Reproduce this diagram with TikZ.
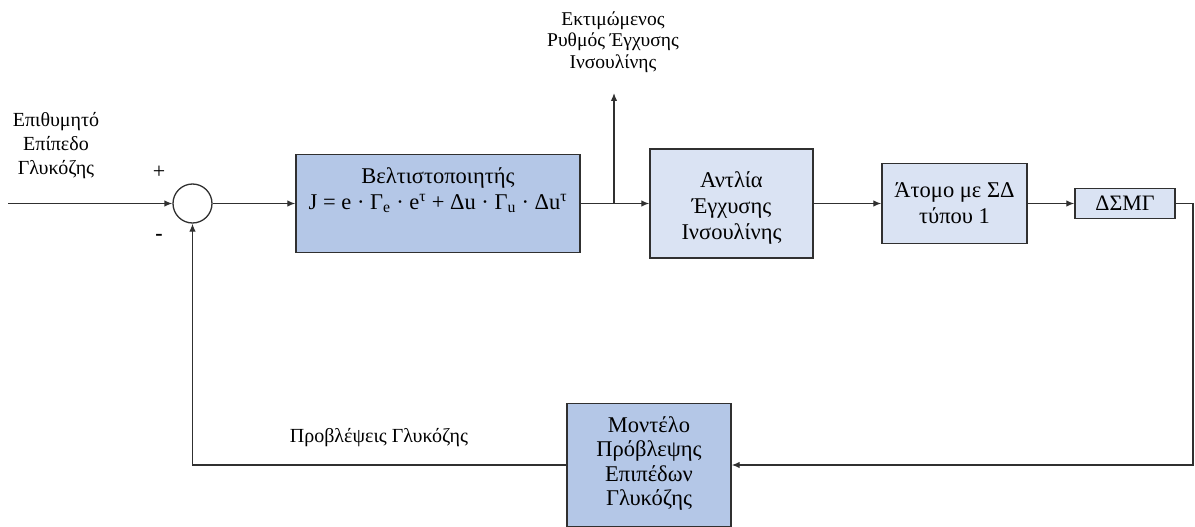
\documentclass[tikz,border=0pt]{standalone}
\usepackage{fontspec}
\setmainfont{Liberation Serif}
\usetikzlibrary{arrows.meta}
\definecolor{darkblk}{HTML}{303030}
\definecolor{midblue}{HTML}{B4C7E7}
\definecolor{paleblue}{HTML}{DAE3F3}
\tikzset{
  blockA/.style={draw=darkblk, line width=1.4pt, fill=midblue, align=center, inner sep=0pt, font=\fontsize{22.5}{26}\selectfont},
  blockB/.style={draw=darkblk, line width=1.4pt, fill=paleblue, align=center, inner sep=0pt, font=\fontsize{22.5}{26}\selectfont},
  lbl/.style={align=center, inner sep=0pt, font=\fontsize{20}{24}\selectfont},
  conn/.style={draw=darkblk, line width=1.3pt},
  arr/.style={conn, -{Latex[length=8pt,width=6.5pt]}}
}
\begin{document}
\begin{tikzpicture}[x=1pt,y=-1pt]
\useasboundingbox (0,0) rectangle (1195,527);
\node[circle, draw=darkblk, line width=1.3pt, minimum size=39pt, inner sep=0pt] (sum) at (192.5,203.5) {};
\node[blockA, minimum width=284pt, minimum height=98pt] (opt) at (438,203.5)
  {Βελτιστοποιητής\\J = e · Γ\textsubscript{e} · e\textsuperscript{τ} + Δu · Γ\textsubscript{u} · Δu\textsuperscript{τ}\\[4pt]};
\node[blockB, minimum width=163pt, minimum height=109pt] (pump) at (731.5,203.5) {Αντλία\\Έγχυσης\\Ινσουλίνης\\[-30pt]};
\node[blockB, minimum width=145pt, minimum height=80pt] (atom) at (954.5,203.5) {Άτομο με ΣΔ\\τύπου 1};
\node[blockB, minimum width=100pt, minimum height=30pt, font=\fontsize{22}{24}\selectfont] (dsmg) at (1125,203.5) {ΔΣΜΓ};
\node[blockA, minimum width=164pt, minimum height=123pt, font=\fontsize{22.5}{24.5}\selectfont] (model) at (649,465) {Μοντέλο\\Πρόβλεψης\\Επιπέδων\\Γλυκόζης\\[-17pt]};

\node[lbl] (des) at (56,146) {Επιθυμητό\\Επίπεδο\\Γλυκόζης};
\node[lbl, font=\fontsize{19.5}{21.5}\selectfont] (est) at (613,42) {Εκτιμώμενος\\Ρυθμός Έγχυσης\\Ινσουλίνης};
\node[lbl] (pred) at (379,438) {Προβλέψεις Γλυκόζης};
\node[lbl, font=\fontsize{22}{24}\selectfont] (plus) at (159,172) {+};
\node[lbl, font=\bfseries\fontsize{22}{24}\selectfont] (minus) at (159,237) {-};

\coordinate (in) at (8,203.5);
\coordinate (br) at (614,203.5);
\coordinate (tp) at (614,93);
\coordinate (rc) at (1193,203.5);
\coordinate (rb) at (1193,465);

\draw[arr] (in) -- (sum.west);
\draw[arr] (sum.east) -- (opt.west);
\draw[arr] (opt.east) -- (pump.west);
\draw[arr] (br) -- (tp);
\draw[arr] (pump.east) -- (atom.west);
\draw[arr] (atom.east) -- (dsmg.west);
\draw[arr] (dsmg.east) -- (rc) -- (rb) -- (model.east);
\draw[arr] (model.west) -| (sum.south);
\end{tikzpicture}
\end{document}
